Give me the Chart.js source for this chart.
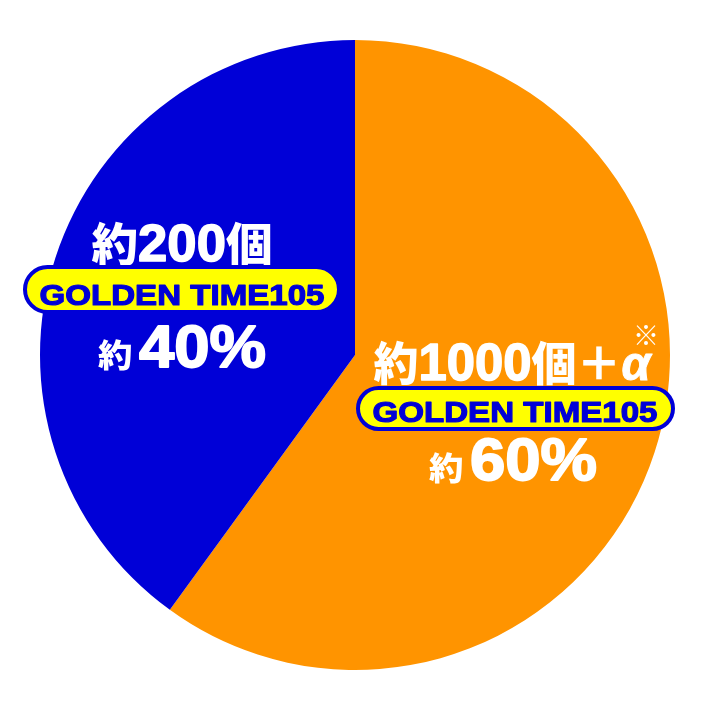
<!DOCTYPE html>
<html>
<head>
<meta charset="utf-8">
<script src="https://cdn.jsdelivr.net/npm/chart.js@4/dist/chart.umd.min.js"></script>
<style>
    html, body { margin: 0; padding: 0; background: #fff; }
    #wrap { width: 712px; height: 710px; }
</style>
</head>
<body>
<div id="wrap"><canvas id="myChart" width="712" height="710"></canvas></div>
<script>
(function () {
    'use strict';

    // data
    var categories = ['約1000個＋α', '約200個'];
    var shares = [60, 40];
    var sliceColors = ['#FF9400', '#0000D7'];
    var badgeText = 'GOLDEN TIME105';
    var percentTexts = ['60%', '40%'];

    var SANS = '"Liberation Sans", Arial, "Noto Sans CJK JP", sans-serif';
    var CJK = '"Noto Sans CJK JP", sans-serif';

    // draws a run of differently sized pieces, centred on cx, stretched to width w
    function drawRun(ctx, parts, cx, baseline, w, color) {
        var total = 0;
        parts.forEach(function (p) {
            ctx.font = p.font;
            p.w = ctx.measureText(p.t).width;
            total += p.w + (p.gap || 0);
        });
        var sx = w ? w / total : 1;
        ctx.save();
        ctx.translate(cx - total * sx / 2, baseline);
        ctx.scale(sx, 1);
        ctx.fillStyle = color;
        ctx.strokeStyle = color;
        ctx.lineJoin = 'round';
        ctx.textBaseline = 'alphabetic';
        ctx.textAlign = 'left';
        var x = 0;
        parts.forEach(function (p) {
            ctx.font = p.font;
            if (p.bold) {
                ctx.lineWidth = p.bold;
                ctx.strokeText(p.t, x, 0);
            }
            ctx.fillText(p.t, x, 0);
            x += p.w + (p.gap || 0);
        });
        ctx.restore();
    }

    function pill(ctx, x, y, w, h) {
        var r = h / 2;
        ctx.beginPath();
        ctx.moveTo(x + r, y);
        ctx.lineTo(x + w - r, y);
        ctx.arc(x + w - r, y + r, r, -Math.PI / 2, Math.PI / 2);
        ctx.lineTo(x + r, y + h);
        ctx.arc(x + r, y + r, r, Math.PI / 2, Math.PI * 1.5);
        ctx.closePath();
        ctx.fillStyle = '#FFFF00';
        ctx.fill();
        ctx.lineWidth = 4;
        ctx.strokeStyle = '#0000D7';
        ctx.stroke();
    }

    var labelPlugin = {
        id: 'sliceLabels',
        afterDraw: function (chart) {
            var ctx = chart.ctx;
            var meta = chart.getDatasetMeta(0);
            var cx = meta.data[0].x, cy = meta.data[0].y;

            // blue slice (40%)
            drawRun(ctx, [
                { t: '約', font: '900 46px ' + CJK },
                { t: '200', font: 'bold 52px ' + SANS, bold: 1.5 },
                { t: '個', font: '900 46px ' + CJK }
            ], cx - 173, cy - 94, 181, '#fff');
            pill(ctx, cx - 330, cy - 88, 314, 45);
            drawRun(ctx, [{ t: badgeText, font: 'bold 30px ' + SANS, bold: 1.2 }], cx - 173, cy - 50, 285, '#0000D7');
            drawRun(ctx, [
                { t: '約', font: '900 32px ' + CJK, gap: 6 },
                { t: percentTexts[1], font: 'bold 59px ' + SANS, bold: 1.8 }
            ], cx - 173, cy + 12, 168, '#fff');

            // orange slice (60%)
            drawRun(ctx, [
                { t: '約', font: '900 46px ' + CJK },
                { t: '1000', font: 'bold 52px ' + SANS, bold: 1.5 },
                { t: '個', font: '900 46px ' + CJK },
                { t: '＋', font: '900 46px ' + CJK },
                { t: 'α', font: 'italic bold 48px ' + SANS, bold: 1 }
            ], cx + 157, cy + 25, 277, '#fff');
            ctx.save();
            ctx.font = '26px ' + CJK;
            ctx.fillStyle = '#fff';
            ctx.textAlign = 'center';
            ctx.textBaseline = 'middle';
            ctx.fillText('※', cx + 291, cy - 20);
            ctx.restore();
            pill(ctx, cx + 3, cy + 33, 315, 41);
            drawRun(ctx, [{ t: badgeText, font: 'bold 30px ' + SANS, bold: 1.2 }], cx + 160, cy + 67, 285, '#0000D7');
            drawRun(ctx, [
                { t: '約', font: '900 32px ' + CJK, gap: 6 },
                { t: percentTexts[0], font: 'bold 59px ' + SANS, bold: 1.8 }
            ], cx + 158, cy + 125, 168, '#fff');
        }
    };

    new Chart(document.getElementById('myChart'), {
        type: 'pie',
        data: {
            labels: categories,
            datasets: [{
                data: shares,
                backgroundColor: sliceColors,
                borderWidth: 0
            }]
        },
        options: {
            responsive: false,
            animation: false,
            layout: { padding: { left: 40, right: 42, top: 40, bottom: 40 } },
            plugins: {
                legend: { display: false },
                tooltip: { enabled: false }
            }
        },
        plugins: [labelPlugin]
    });
})();
</script>
</body>
</html>
